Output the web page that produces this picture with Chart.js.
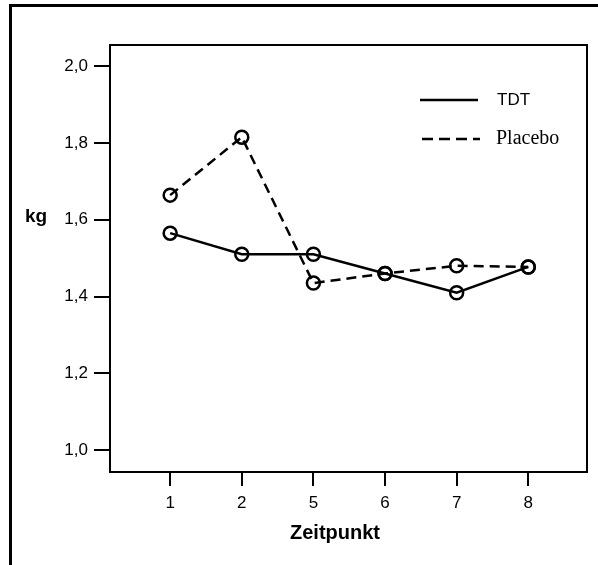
<!DOCTYPE html>
<html>
<head>
<meta charset="utf-8">
<script src="https://cdn.jsdelivr.net/npm/chart.js@4"></script>
<style>
  html, body { margin: 0; padding: 0; background: #fff; }
  #wrap { width: 598px; height: 565px; position: relative; }
</style>
</head>
<body>
<div id="wrap"><canvas id="myChart"></canvas></div>
<script>
// Daten //
const zeitpunkte = ["1", "2", "5", "6", "7", "8"];
const tdtWerte = [1.565, 1.51, 1.51, 1.46, 1.41, 1.477];
const placeboWerte = [1.664, 1.815, 1.435, 1.46, 1.48, 1.477];
const yTicks = [1.0, 1.2, 1.4, 1.6, 1.8, 2.0];

const sans = "'Liberation Sans', Arial, sans-serif";
const serif = "'Liberation Serif', 'Times New Roman', serif";

// Rahmen, Legende und Achsentitel //
const rahmen = {
    id: "rahmen",
    beforeDraw: function (chart) {
        const ctx = chart.ctx;
        ctx.save();
        ctx.strokeStyle = "#000";
        ctx.lineWidth = 3;
        ctx.beginPath();
        ctx.moveTo(10.5, 565);
        ctx.lineTo(10.5, 5.5);
        ctx.lineTo(598, 5.5);
        ctx.stroke();
        ctx.restore();
    },
    afterDraw: function (chart) {
        const ctx = chart.ctx;
        const a = chart.chartArea;
        ctx.save();
        ctx.strokeStyle = "#000";
        ctx.lineWidth = 2;
        ctx.strokeRect(a.left, a.top, a.right - a.left, a.bottom - a.top);

        // Legende //
        ctx.lineWidth = 2.5;
        ctx.beginPath();
        ctx.moveTo(420, 100);
        ctx.lineTo(478, 100);
        ctx.stroke();
        ctx.setLineDash([11, 6]);
        ctx.beginPath();
        ctx.moveTo(422, 139);
        ctx.lineTo(480, 139);
        ctx.stroke();
        ctx.setLineDash([]);

        ctx.fillStyle = "#000";
        ctx.textBaseline = "middle";
        ctx.textAlign = "left";
        ctx.font = "17px " + sans;
        ctx.fillText("TDT", 497, 100);
        ctx.font = "20px " + serif;
        ctx.fillText("Placebo", 496, 139);

        // Achsentitel //
        ctx.font = "bold 19px " + sans;
        ctx.fillText("kg", 25, 217);
        ctx.textAlign = "center";
        ctx.font = "bold 20px " + sans;
        ctx.fillText("Zeitpunkt", 335, 533);
        ctx.restore();
    }
};

const data = {
    datasets: [
        {
            label: "TDT",
            data: tdtWerte.map(function (v, i) { return { x: i, y: v }; }),
            borderColor: "#000",
            borderWidth: 2.5,
            pointRadius: 6.5,
            pointBorderWidth: 2.5,
            pointBorderColor: "#000",
            pointBackgroundColor: "rgba(0,0,0,0)",
            tension: 0
        },
        {
            label: "Placebo",
            data: placeboWerte.map(function (v, i) { return { x: i, y: v }; }),
            borderColor: "#000",
            borderWidth: 2.5,
            borderDash: [10, 6],
            pointRadius: 6.5,
            pointBorderWidth: 2.5,
            pointBorderColor: "#000",
            pointBackgroundColor: "rgba(0,0,0,0)",
            tension: 0
        }
    ]
};

const config = {
    type: "line",
    data: data,
    options: {
        responsive: true,
        maintainAspectRatio: false,
        animation: false,
        layout: { padding: { left: 0, top: 45, right: 11, bottom: 0 } },
        plugins: {
            legend: { display: false },
            tooltip: { enabled: false }
        },
        scales: {
            x: {
                type: "linear",
                min: -0.84,
                max: 5.82,
                afterBuildTicks: function (s) {
                    s.ticks = zeitpunkte.map(function (_, i) { return { value: i }; });
                },
                afterFit: function (s) { s.height = 93; },
                grid: { drawOnChartArea: false, drawTicks: true, tickLength: 14, color: "#000", lineWidth: 2 },
                border: { display: true, color: "#000", width: 2 },
                ticks: {
                    color: "#000",
                    padding: 7,
                    maxRotation: 0,
                    font: { family: sans, size: 17 },
                    callback: function (value) { return zeitpunkte[value]; }
                }
            },
            y: {
                type: "linear",
                min: 0.943,
                max: 2.055,
                afterBuildTicks: function (s) {
                    s.ticks = yTicks.map(function (v) { return { value: v }; });
                },
                afterFit: function (s) { s.width = 110; },
                grid: { drawOnChartArea: false, drawTicks: true, tickLength: 16, color: "#000", lineWidth: 2 },
                border: { display: true, color: "#000", width: 2 },
                ticks: {
                    color: "#000",
                    padding: 6,
                    font: { family: sans, size: 17 },
                    callback: function (value) { return value.toFixed(1).replace(".", ","); }
                }
            }
        }
    },
    plugins: [rahmen]
};

const myChart = new Chart(document.getElementById("myChart"), config);
</script>
</body>
</html>
